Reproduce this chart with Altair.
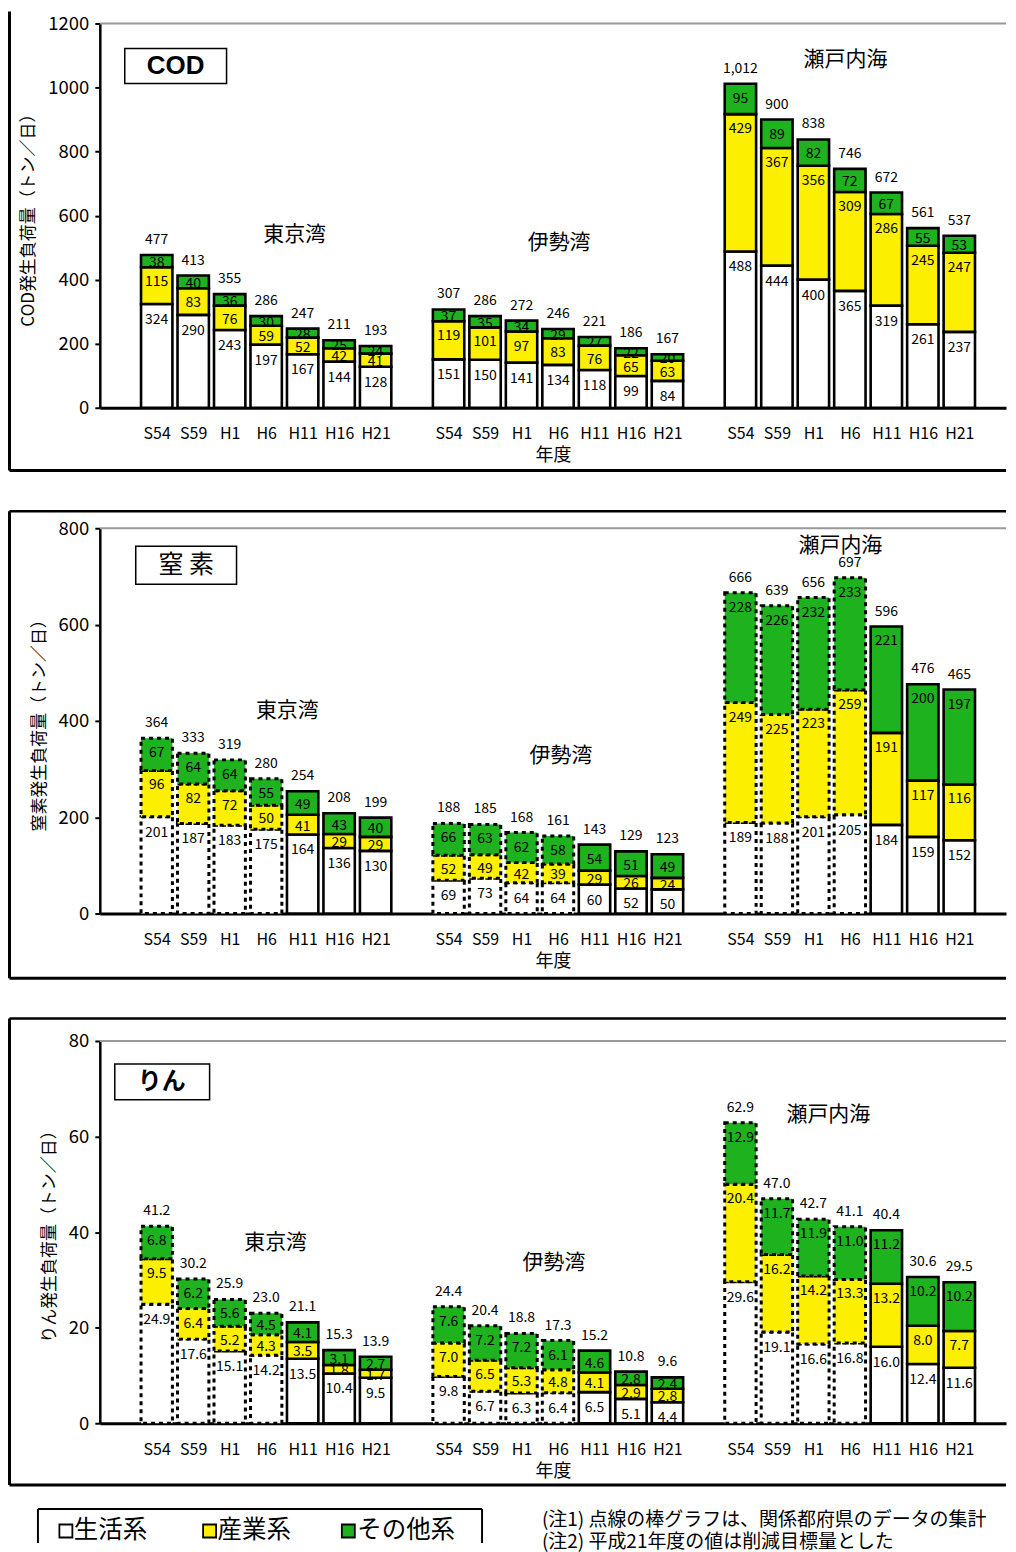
import json
import altair as alt
import pandas as pd

FONT = "Noto Sans CJK JP"

years = ["S54", "S59", "H1", "H6", "H11", "H16", "H21"]
bays = ["東京湾", "伊勢湾", "瀬戸内海"]
sources = ["生活系", "産業系", "その他系"]
source_colors = ["#FFFFFF", "#FCF000", "#1FB21F"]

# ---- COD (トン/日): 東京湾 7 values, 伊勢湾 7 values, 瀬戸内海 7 values
cod_life = [324, 290, 243, 197, 167, 144, 128, 151, 150, 141, 134, 118, 99, 84, 488, 444, 400, 365, 319, 261, 237]
cod_ind = [115, 83, 76, 59, 52, 42, 41, 119, 101, 97, 83, 76, 65, 63, 429, 367, 356, 309, 286, 245, 247]
cod_other = [38, 40, 36, 30, 28, 25, 24, 37, 35, 34, 29, 27, 22, 20, 95, 89, 82, 72, 67, 55, 53]
cod_total = [477, 413, 355, 286, 247, 211, 193, 307, 286, 272, 246, 221, 186, 167, 1012, 900, 838, 746, 672, 561, 537]
cod_dashed_years = []
cod_bay_x = [3.78, 11.03, 18.88]
cod_bay_y = [539, 514, 1085]

# ---- 窒素
n_life = [201, 187, 183, 175, 164, 136, 130, 69, 73, 64, 64, 60, 52, 50, 189, 188, 201, 205, 184, 159, 152]
n_ind = [96, 82, 72, 50, 41, 29, 29, 52, 49, 42, 39, 29, 26, 24, 249, 225, 223, 259, 191, 117, 116]
n_other = [67, 64, 64, 55, 49, 43, 40, 66, 63, 62, 58, 54, 51, 49, 228, 226, 232, 233, 221, 200, 197]
n_total = [364, 333, 319, 280, 254, 208, 199, 188, 185, 168, 161, 143, 129, 123, 666, 639, 656, 697, 596, 476, 465]
n_dashed_years = ["S54", "S59", "H1", "H6"]
n_bay_x = [3.58, 11.08, 18.74]
n_bay_y = [421, 327, 763]

# ---- りん
p_life = [24.9, 17.6, 15.1, 14.2, 13.5, 10.4, 9.5, 9.8, 6.7, 6.3, 6.4, 6.5, 5.1, 4.4, 29.6, 19.1, 16.6, 16.8, 16.0, 12.4, 11.6]
p_ind = [9.5, 6.4, 5.2, 4.3, 3.5, 1.8, 1.7, 7.0, 6.5, 5.3, 4.8, 4.1, 2.9, 2.8, 20.4, 16.2, 14.2, 13.3, 13.2, 8.0, 7.7]
p_other = [6.8, 6.2, 5.6, 4.5, 4.1, 3.1, 2.7, 7.6, 7.2, 7.2, 6.1, 4.6, 2.8, 2.4, 12.9, 11.7, 11.9, 11.0, 11.2, 10.2, 10.2]
p_total = [41.2, 30.2, 25.9, 23.0, 21.1, 15.3, 13.9, 24.4, 20.4, 18.8, 17.3, 15.2, 10.8, 9.6, 62.9, 47.0, 42.7, 41.1, 40.4, 30.6, 29.5]
p_dashed_years = ["S54", "S59", "H1", "H6"]
p_bay_x = [3.26, 10.89, 18.41]
p_bay_y = [37.8, 33.6, 64.5]

notes = ["(注1) 点線の棒グラフは、関係都府県のデータの集計", "(注2) 平成21年度の値は削減目標量とした"]

W = 908
HALF = 0.43
FRAME_X = -90.5
slot_values = [b * 8 + i for b in range(3) for i in range(7)]
xscale = alt.Scale(domain=[-1.56, 23.28], nice=False, zero=False)
one = pd.DataFrame({"a": [0]})


def fmt_int(v):
    return f"{int(round(v)):,}"


def fmt_dec(v):
    return f"{v:.1f}"


def vrule(x, y1, y2, width=3, color="black"):
    return alt.Chart(one).mark_rule(color=color, strokeWidth=width).encode(
        x=alt.value(x), y=alt.value(y1), y2=alt.value(y2))


def hrule(y, x1, x2, width=3, color="black"):
    return alt.Chart(one).mark_rule(color=color, strokeWidth=width).encode(
        y=alt.value(y), x=alt.value(x1), x2=alt.value(x2))


def box(x1, x2, y1, y2, fill="white", sw=1.5):
    return alt.Chart(one).mark_rect(fill=fill, stroke="black", strokeWidth=sw).encode(
        x=alt.value(x1), x2=alt.value(x2), y=alt.value(y1), y2=alt.value(y2))


def label(x, y, txt, size, font=FONT, weight="normal", align="center"):
    return alt.Chart(one).mark_text(text=txt, fontSize=size, font=font, fontWeight=weight,
                                    align=align, baseline="middle", color="black").encode(
        x=alt.value(x), y=alt.value(y))


def build_panel(life, ind, other, total, dashed_years, ymax, height, yticks, ytitle, fmt,
                bay_x, bay_y, frame_top, frame_bottom, top_line, title_layers, extra=()):
    ppu = height / ymax
    rows = []
    for k in range(21):
        b, yi = divmod(k, 7)
        s = b * 8 + yi
        dashed = years[yi] in dashed_years
        base = 0.0
        for c, v in enumerate((life[k], ind[k], other[k])):
            top = base + v
            h = v * ppu
            off = 16 if c == 0 else min(15, h / 2 + 2)
            rows.append(dict(s=s, xa=s - HALF, xb=s + HALF, y0=base, y1=top, source=sources[c],
                             dashed=dashed, ly=top - off / ppu, label=fmt(v)))
            base = top
    df = pd.DataFrame(rows)
    tot = pd.DataFrame({
        "s": slot_values,
        "ty": [t + 15 / ppu for t in total],
        "label": [fmt_int(t) if fmt is fmt_int else fmt_dec(t) for t in total],
    })
    bay_df = pd.DataFrame({"s": bay_x, "y": bay_y, "name": bays})

    yscale = alt.Scale(domain=[0, ymax], nice=False, zero=True)
    xaxis = alt.Axis(values=slot_values, labelExpr=f"{json.dumps(years)}[datum.value % 8]",
                     ticks=False, domainColor="black", domainWidth=3, labelFontSize=16,
                     labelPadding=18, labelColor="black", title="年度", titleFontSize=18,
                     titleFontWeight="normal", titlePadding=5, grid=False,
                     labelOverlap=False, labelFlush=False, titleColor="black")
    yaxis = alt.Axis(values=yticks, format="d", title=ytitle, titleFontSize=17,
                     titleFontWeight="normal", titlePadding=10, labelFontSize=18.5, labelPadding=6,
                     tickSize=5, tickWidth=2, tickColor="black", domainColor="black",
                     domainWidth=2.5, grid=False, labelColor="black", labelFlush=False,
                     labelOverlap=False, titleColor="black")

    def X(f):
        return alt.X(f, type="quantitative", scale=xscale, axis=xaxis)

    def Y(f):
        return alt.Y(f, type="quantitative", scale=yscale, axis=yaxis)

    color = alt.Color("source:N", scale=alt.Scale(domain=sources, range=source_colors), legend=None)
    base = alt.Chart(df)
    solid = base.transform_filter("!datum.dashed").mark_bar(stroke="black", strokeWidth=2.6).encode(
        x=X("xa"), x2="xb", y=Y("y0"), y2="y1", color=color)
    dashed = base.transform_filter("datum.dashed").mark_bar(
        stroke="black", strokeWidth=3, strokeDash=[4, 4]).encode(
        x=X("xa"), x2="xb", y=Y("y0"), y2="y1", color=color)
    seg_text = base.mark_text(fontSize=14, baseline="middle", color="black").encode(
        x=X("s"), y=Y("ly"), text="label:N")
    tot_text = alt.Chart(tot).mark_text(fontSize=14, baseline="middle", color="black").encode(
        x=X("s"), y=Y("ty"), text="label:N")
    bay_text = alt.Chart(bay_df).mark_text(fontSize=21, baseline="middle", color="black").encode(
        x=X("s"), y=Y("y"), text="name:N")

    layers = [solid, dashed, seg_text, tot_text, bay_text,
              hrule(0, 0, W, width=2, color="#9a9a9a"),
              vrule(FRAME_X, frame_top, frame_bottom),
              hrule(frame_bottom, FRAME_X, W)]
    if top_line:
        layers.append(hrule(frame_top, FRAME_X, W, width=2.5))
    layers += list(title_layers)
    layers += list(extra)
    return alt.layer(*layers).properties(width=W, height=height)


p1 = build_panel(cod_life, cod_ind, cod_other, cod_total, cod_dashed_years, 1200, 385,
                 [0, 200, 400, 600, 800, 1000, 1200], "COD発生負荷量（トン／日）", fmt_int,
                 cod_bay_x, cod_bay_y, -12, 448, False,
                 [box(25, 127, 25, 60), label(76, 43, "COD", 26, font="Liberation Sans", weight="bold")])

p2 = build_panel(n_life, n_ind, n_other, n_total, n_dashed_years, 800, 386,
                 [0, 200, 400, 600, 800], "窒素発生負荷量（トン／日）", fmt_int,
                 n_bay_x, n_bay_y, -17, 451, True,
                 [box(36, 137, 18, 56), label(86.5, 37, "窒 素", 25)])

legend_layers = [
    hrule(469, -62, 383, width=2),
    vrule(-62, 469, 503, width=2),
    vrule(383, 469, 503, width=2),
]
for xc, col, name, tx in [(-34, source_colors[0], sources[0], -26),
                          (110, source_colors[1], sources[1], 118),
                          (249, source_colors[2], sources[2], 258)]:
    legend_layers.append(box(xc - 6.5, xc + 6.5, 484.5, 497.5, fill=col, sw=1.8))
    legend_layers.append(label(tx, 491, name, 24.5, align="left"))
legend_layers.append(label(443, 480, notes[0], 19, align="left"))
legend_layers.append(label(443, 502, notes[1], 19, align="left"))

p3 = build_panel(p_life, p_ind, p_other, p_total, p_dashed_years, 80, 383,
                 [0, 20, 40, 60, 80], "りん発生負荷量（トン／日）", fmt_dec,
                 p_bay_x, p_bay_y, -22.5, 445, True,
                 [box(15, 110, 23, 59), label(62, 41, "りん", 24, weight="bold")],
                 extra=legend_layers)

chart = alt.vconcat(p1, p2, p3, spacing=36.75).properties(padding=0).configure(
    font=FONT).configure_view(stroke=None).configure_axis(labelFont=FONT, titleFont=FONT)

chart.save("out.html", embed_options={"renderer": "svg", "actions": False})
